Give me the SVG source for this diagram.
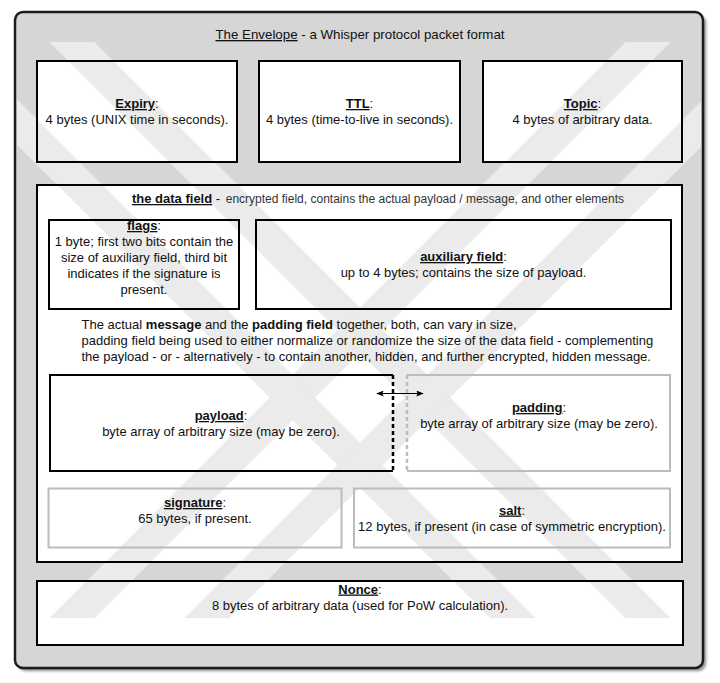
<svg xmlns="http://www.w3.org/2000/svg" width="720" height="683" viewBox="0 0 720 683">
<defs>
<style>
text{font-family:"Liberation Sans",Arial,sans-serif;font-size:13px;fill:#111;}
.c{text-anchor:middle;}
.h{font-weight:bold;text-decoration:underline;}
.blk{fill:none;stroke:#000;stroke-width:2;}
.gry{fill:none;stroke:#bcbcbc;stroke-width:2;}
.wf{fill:#fff;stroke:none;}
.wm{stroke:#ebebeb;stroke-width:32;fill:none;}
</style>
<filter id="sh" x="-5%" y="-5%" width="110%" height="110%"><feGaussianBlur stdDeviation="1.5"/></filter>
<clipPath id="wmclip"><rect x="17" y="42" width="684" height="576"/></clipPath>
<marker id="ah" viewBox="0 0 10 8" refX="9" refY="4" markerWidth="8" markerHeight="6" markerUnits="userSpaceOnUse" orient="auto-start-reverse"><path d="M0,0 L10,4 L0,8 L2,4 Z" fill="#000"/></marker>
</defs>

<g id="envelope-frame">
<rect x="18" y="15" width="688" height="656" rx="8" fill="#8a8a8a" filter="url(#sh)"/>
<rect x="15" y="12" width="688" height="656" rx="8" fill="#d6d6d6" stroke="#1c1c1c" stroke-width="2.5"/>
</g>

<g id="fills">
<rect class="wf" x="37" y="61" width="200" height="101"/>
<rect class="wf" x="259" y="61" width="201" height="101"/>
<rect class="wf" x="483" y="61" width="199" height="101"/>
<rect class="wf" x="37" y="185" width="645" height="377"/>
<rect class="wf" x="37" y="581" width="646" height="64"/>
</g>

<g id="watermark" clip-path="url(#wmclip)">
<line class="wm" x1="0" y1="-30" x2="720" y2="690"/>
<line class="wm" x1="0" y1="690" x2="720" y2="-30"/>
<line class="wm" x1="0" y1="105" x2="720" y2="825"/>
<line class="wm" x1="0" y1="825" x2="720" y2="105"/>
</g>

<g id="title">
<text class="c" x="360" y="39" style="font-size:13.3px"><tspan style="text-decoration:underline">The Envelope</tspan> - a Whisper protocol packet format</text>
</g>

<g id="expiry">
<rect class="blk" x="37" y="61" width="200" height="101"/>
<text class="c" x="137" y="108"><tspan class="h">Expiry</tspan>:</text>
<text class="c" x="137" y="124">4 bytes (UNIX time in seconds).</text>
</g>

<g id="ttl">
<rect class="blk" x="259" y="61" width="201" height="101"/>
<text class="c" x="359.5" y="108"><tspan class="h">TTL</tspan>:</text>
<text class="c" x="359.5" y="124">4 bytes (time-to-live in seconds).</text>
</g>

<g id="topic">
<rect class="blk" x="483" y="61" width="199" height="101"/>
<text class="c" x="582.5" y="108"><tspan class="h">Topic</tspan>:</text>
<text class="c" x="582.5" y="124">4 bytes of arbitrary data.</text>
</g>

<g id="data-field">
<rect class="blk" x="37" y="185" width="645" height="377"/>
<text x="132" y="203"><tspan class="h">the data field</tspan> - <tspan dx="2" style="font-size:12px;fill:#333">encrypted field, contains the actual payload / message, and other elements</tspan></text>
<text x="81.5" y="329">The actual <tspan font-weight="bold">message</tspan> and the <tspan font-weight="bold">padding field</tspan> together, both, can vary in size,</text>
<text x="81.5" y="345">padding field being used to either normalize or randomize the size of the data field - complementing</text>
<text x="81.5" y="361">the payload - or - alternatively - to contain another, hidden, and further encrypted, hidden message.</text>
</g>

<g id="flags">
<rect class="blk" x="49" y="220" width="190" height="89"/>
<text class="c" x="144" y="230"><tspan class="h">flags</tspan>:</text>
<text class="c" x="144" y="246">1 byte; first two bits contain the</text>
<text class="c" x="144" y="262">size of auxiliary field, third bit</text>
<text class="c" x="144" y="278">indicates if the signature is</text>
<text class="c" x="144" y="294">present.</text>
</g>

<g id="auxiliary-field">
<rect class="blk" x="256" y="220" width="415" height="89"/>
<text class="c" x="463.5" y="261"><tspan class="h">auxiliary field</tspan>:</text>
<text class="c" x="463.5" y="277">up to 4 bytes; contains the size of payload.</text>
</g>

<g id="payload">
<path class="blk" d="M393,375 H50 V471 H393"/>
<line x1="393" y1="375" x2="393" y2="471" stroke="#000" stroke-width="2.5" stroke-dasharray="4 3"/>
<text class="c" x="221" y="420"><tspan class="h">payload</tspan>:</text>
<text class="c" x="221" y="436">byte array of arbitrary size (may be zero).</text>
</g>

<g id="padding">
<path class="gry" d="M407,375 H670 V471 H407"/>
<line x1="407" y1="375" x2="407" y2="471" stroke="#bcbcbc" stroke-width="2.5" stroke-dasharray="4 3"/>
<text class="c" x="539" y="412"><tspan class="h">padding</tspan>:</text>
<text class="c" x="539" y="428">byte array of arbitrary size (may be zero).</text>
</g>

<g id="signature">
<rect class="gry" x="48.5" y="488.5" width="293" height="59"/>
<text class="c" x="195" y="507"><tspan class="h">signature</tspan>:</text>
<text class="c" x="195" y="523">65 bytes, if present.</text>
</g>

<g id="salt">
<rect class="gry" x="354" y="488.5" width="316" height="59"/>
<text class="c" x="512" y="514.5"><tspan class="h">salt</tspan>:</text>
<text class="c" x="512" y="531">12 bytes, if present (in case of symmetric encryption).</text>
</g>

<g id="nonce">
<rect class="blk" x="37" y="581" width="646" height="64"/>
<text class="c" x="360" y="593.5"><tspan class="h">Nonce</tspan>:</text>
<text class="c" x="360" y="609.5">8 bytes of arbitrary data (used for PoW calculation).</text>
</g>

<g id="connectors">
<line x1="377" y1="393.5" x2="423" y2="393.5" stroke="#000" stroke-width="1.2" marker-start="url(#ah)" marker-end="url(#ah)"/>
</g>
</svg>
